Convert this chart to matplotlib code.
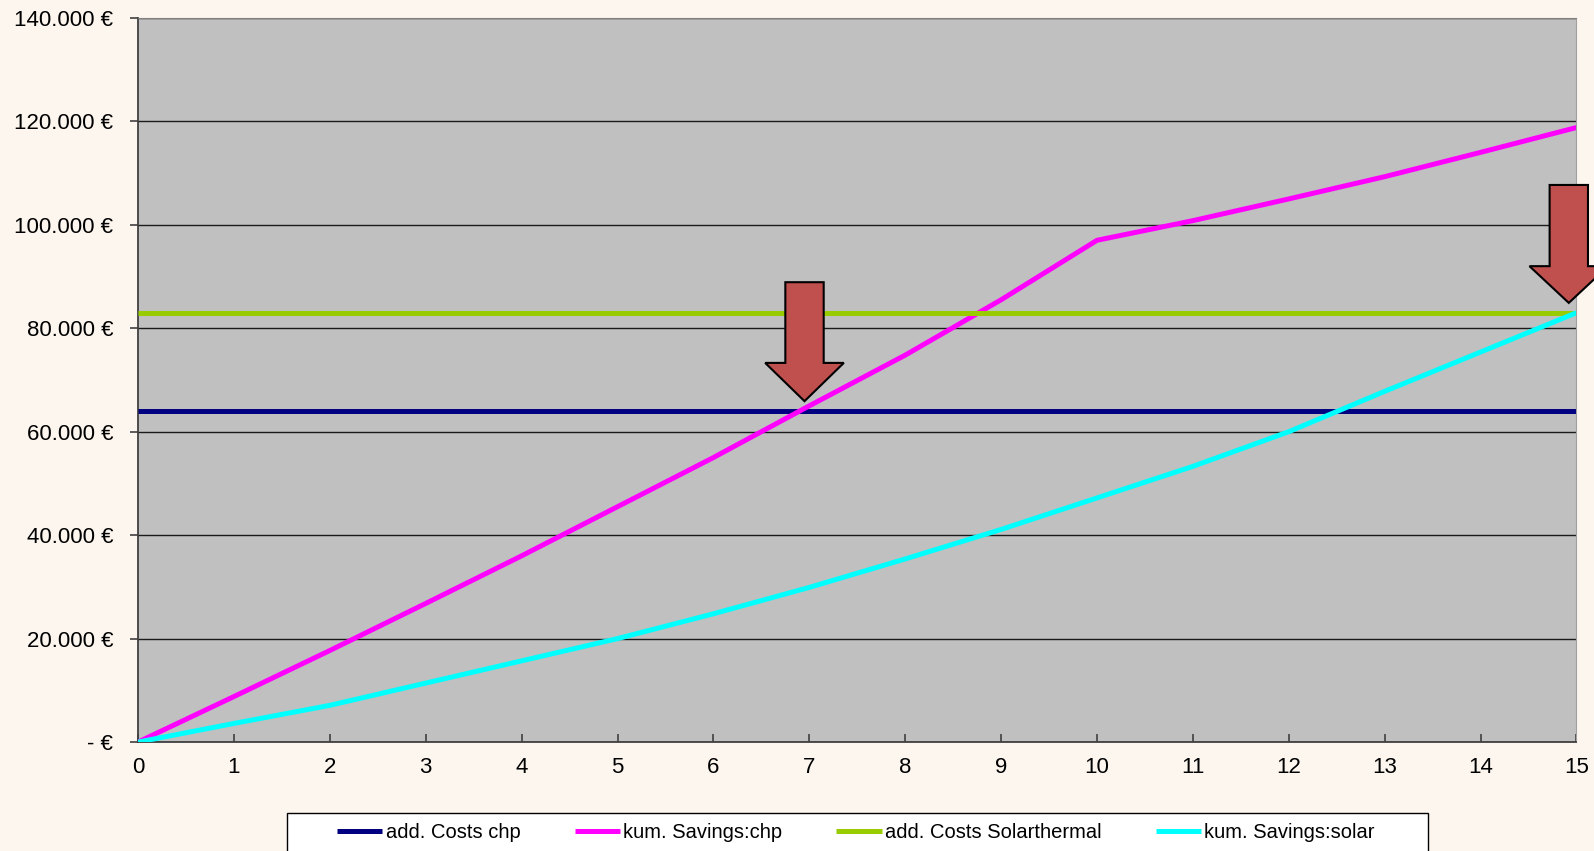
import matplotlib
matplotlib.use("Agg")
import matplotlib.pyplot as plt
from matplotlib.patches import Polygon, Rectangle
from matplotlib.ticker import FuncFormatter

plt.rcParams['font.family'] = ['Liberation Sans', 'DejaVu Sans']

# years 0..15
years = list(range(16))
add_costs_chp = [64000] * 16
kum_savings_chp = [0, 8800, 17700, 26800, 36000, 45500, 55000, 65000, 74800,
                   85500, 97000, 100800, 105000, 109300, 114000, 118800]
add_costs_solar = [83000] * 16
kum_savings_solar = [0, 3600, 7100, 11400, 15700, 20000, 24800, 29900, 35400,
                     41100, 47200, 53300, 60000, 67800, 75400, 83000]

labels = ['add. Costs chp', 'kum. Savings:chp', 'add. Costs Solarthermal', 'kum. Savings:solar']
colors = ['#000080', '#FF00FF', '#99CC00', '#00FFFF']

# arrows: center x, tip y, top y, head base y
arrow_x = [6.95, 14.92]
arrow_tip = [65900, 84900]
arrow_top = [88900, 107700]
arrow_head_base = [73300, 92000]

fig = plt.figure(figsize=(15.94, 8.51), dpi=100, facecolor='#FCF6EF')
ax = fig.add_axes([0.0866, 0.128, 0.9024, 0.851])
ax.set_facecolor('#C0C0C0')

series = [add_costs_chp, kum_savings_chp, add_costs_solar, kum_savings_solar]
for vals, lab, col in zip(series, labels, colors):
    ax.plot(years, vals, color=col, lw=3.6, label=lab, solid_capstyle='butt', zorder=3)

ax.set_xlim(0, 15)
ax.set_ylim(0, 140000)
ax.set_xticks(years)
ax.set_yticks(range(0, 140001, 20000))


def euro(v, pos):
    if v == 0:
        return '- €'
    return '{:,.0f} €'.format(v).replace(',', '.')


ax.yaxis.set_major_formatter(FuncFormatter(euro))
ax.grid(axis='y', color='#1a1a1a', lw=1.0, zorder=1)
ax.tick_params(axis='y', direction='out', length=6, width=1.2, color='#404040',
               labelsize=16, pad=12)
ax.tick_params(axis='x', direction='in', length=6, width=1.2, color='#404040',
               labelsize=16, pad=11)
for s in ['left', 'bottom']:
    ax.spines[s].set_color('#404040')
    ax.spines[s].set_linewidth(1.3)
ax.spines['top'].set_color('#808080')
ax.spines['right'].set_color('#A0A0A0')

# the red arrows
shaft_hw = 0.2
head_hw = 0.41
for xc, tip, top, hb in zip(arrow_x, arrow_tip, arrow_top, arrow_head_base):
    pts = [(xc - shaft_hw, top), (xc + shaft_hw, top), (xc + shaft_hw, hb),
           (xc + head_hw, hb), (xc, tip), (xc - head_hw, hb), (xc - shaft_hw, hb)]
    ax.add_patch(Polygon(pts, closed=True, facecolor='#C0504D', edgecolor='black',
                         lw=1.5, zorder=5, clip_on=False))

# legend box (runs off the bottom of the picture)
box_x0, box_x1, box_top = 287 / 1594, 1428 / 1594, 1 - 813 / 851
fig.patches.append(Rectangle((box_x0, -0.05), box_x1 - box_x0, box_top + 0.05,
                             transform=fig.transFigure, facecolor='white',
                             edgecolor='black', lw=1.0, zorder=0))
leg = fig.legend(loc='upper center', bbox_to_anchor=((box_x0 + box_x1) / 2 - 0.001, box_top),
                 ncol=4, frameon=False, borderaxespad=0,
                 handlelength=2.25, handletextpad=0.15, borderpad=0.5,
                 columnspacing=2.7, prop={'size': 14.5})

fig.savefig('out.png', dpi=100, facecolor=fig.get_facecolor())
